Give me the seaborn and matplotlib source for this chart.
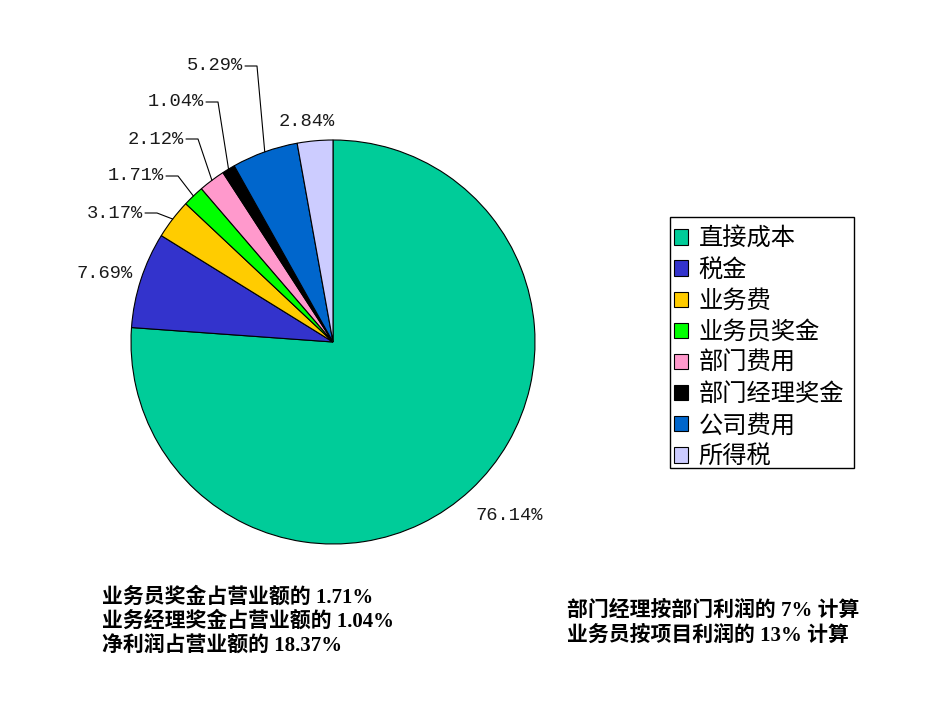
import matplotlib
matplotlib.use("Agg")
import matplotlib.pyplot as plt
import matplotlib.patches as mpatches
import numpy as np
import seaborn as sns

categories = ["直接成本", "税金", "业务费", "业务员奖金", "部门费用", "部门经理奖金", "公司费用", "所得税"]
values = [76.14, 7.69, 3.17, 1.71, 2.12, 1.04, 5.29, 2.84]
colors = ["#00CC99", "#3333CC", "#FFCC00", "#00FF00", "#FF99CC", "#000000", "#0066CC", "#CCCCFF"]
labels = ["76.14%", "7.69%", "3.17%", "1.71%", "2.12%", "1.04%", "5.29%", "2.84%"]
notes_left = ["业务员奖金占营业额的 1.71%", "业务经理奖金占营业额的 1.04%", "净利润占营业额的 18.37%"]
notes_right = ["部门经理按部门利润的 7% 计算", "业务员按项目利润的 13% 计算"]

sns.set_theme(style="white")
plt.rcParams['font.family'] = ['Noto Sans CJK SC', 'DejaVu Sans']

W, H = 950, 713
fig = plt.figure(figsize=(W / 100, H / 100), dpi=100)
ax = fig.add_axes([0, 0, 1, 1])

def Y(y):
    return H - y

cx, cy, R = 333, Y(342), 202
wedges, _ = ax.pie(values, colors=colors, startangle=90, counterclock=False,
                   center=(cx, cy), radius=R,
                   wedgeprops=dict(edgecolor="black", linewidth=0.8))
ax.set_xlim(0, W)
ax.set_ylim(0, H)
ax.set_aspect("equal")
ax.axis("off")

label_font = dict(family=["Liberation Mono", "DejaVu Sans"], fontsize=13.5, color="#1a1a1a")

# labels without leaders: (index, x, y) in screen pixels
plain = {0: (509, 515), 1: (105, 273), 7: (307, 121)}
for i, (x, y) in plain.items():
    ax.text(x, Y(y), labels[i], ha="center", va="center", **label_font)

# labels with leader lines: elbow points in screen pixels
elbows = {2: (157, 213), 3: (178, 176), 4: (198, 139), 5: (218, 102), 6: (257, 66)}
for i, (ex, ey) in elbows.items():
    w = wedges[i]
    mid = np.deg2rad((w.theta1 + w.theta2) / 2)
    px = cx + R * np.cos(mid)
    py = cy + R * np.sin(mid)
    ax.plot([px, ex, ex - 12], [py, Y(ey), Y(ey)], color="black", lw=0.8)
    ax.text(ex - 14, Y(ey), labels[i], ha="right", va="center", **label_font)

# legend frame box (screen pixels) and legend contents
box_l, box_t, box_r, box_b = 670, 217, 854, 468
ax.add_patch(mpatches.Rectangle((box_l, Y(box_b)), box_r - box_l, box_b - box_t,
                                facecolor="white", edgecolor="black", linewidth=1.0, zorder=4))
handles = [mpatches.Patch(facecolor=c, edgecolor="black", linewidth=0.8) for c in colors]
leg = ax.legend(handles, categories, loc="upper left",
                bbox_to_anchor=(box_l / W, 1 - (box_t + 5) / H), bbox_transform=fig.transFigure,
                prop={"family": ["Noto Sans CJK SC", "DejaVu Sans"], "size": 17.5},
                handlelength=0.6, handleheight=0.6, handletextpad=0.42,
                labelspacing=0.21, borderpad=0.15, borderaxespad=0,
                frameon=False)
leg.set_zorder(5)
for t in leg.get_texts():
    t.set_color("black")

note_font = dict(family=["Liberation Serif", "Noto Sans CJK SC"], fontsize=15, fontweight="bold", color="black")
for k, s in enumerate(notes_left):
    ax.text(102, Y(597 + 24.5 * k), s, ha="left", va="center", **note_font)
for k, s in enumerate(notes_right):
    ax.text(567, Y(611 + 25 * k), s, ha="left", va="center", **note_font)

fig.savefig("out.png", dpi=100)
